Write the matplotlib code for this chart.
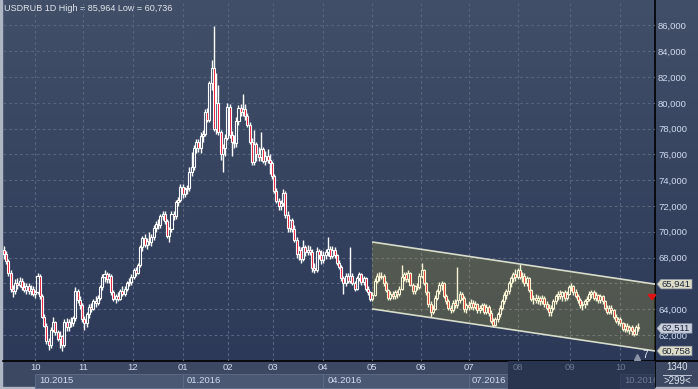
import matplotlib
matplotlib.use("Agg")
import matplotlib.pyplot as plt
import numpy as np
from matplotlib.patches import Polygon, Rectangle
from matplotlib.transforms import blended_transform_factory

plt.rcParams["font.family"] = ["Liberation Sans", "DejaVu Sans"]

TITLE = "USDRUB 1D High = 85,964 Low = 60,736"

# daily candles, 11.09.2015 .. 13.10.2016
opens = [
    68.6, 68.3, 67.7, 66.8, 65.6, 65.4, 66.0, 65.9, 66.2, 65.7,
    65.5, 65.8, 65.4, 65.6, 65.2, 65.3, 66.6, 65.0, 63.4, 62.7,
    61.5, 61.2, 62.4, 63.0, 62.2, 61.7, 61.9, 61.2, 63.0, 62.6,
    63.0, 62.9, 63.3, 65.4, 64.7, 64.3, 63.2, 62.9, 63.6, 64.2,
    64.0, 64.6, 64.5, 64.9, 65.7, 66.5, 66.7, 66.3, 66.6, 65.3,
    64.8, 65.0, 64.8, 65.4, 65.2, 65.6, 66.0, 66.1, 66.5, 67.0,
    66.8, 67.4, 68.8, 69.5, 69.0, 69.3, 69.2, 69.6, 70.3, 70.6,
    70.5, 71.2, 71.4, 70.8, 69.7, 70.2, 71.4, 71.2, 72.3, 72.5,
    73.5, 72.9, 73.3, 73.4, 74.6, 75.0, 76.5, 77.0, 76.5, 77.4,
    77.6, 79.3, 78.7, 81.5, 82.7, 78.0, 80.0, 77.7, 76.0, 76.5,
    77.3, 79.7, 77.5, 77.0, 76.9, 78.6, 79.6, 79.3, 79.5, 79.0,
    78.3, 77.0, 75.4, 76.8, 76.0, 75.8, 76.4, 75.5, 75.9, 75.6,
    75.3, 74.3, 73.2, 72.4, 72.0, 72.2, 73.0, 71.3, 70.3, 70.9,
    70.2, 69.4, 68.3, 68.6, 67.9, 68.8, 68.4, 68.6, 68.4, 67.2,
    67.0, 68.5, 68.2, 67.8, 68.2, 68.4, 68.7, 68.1, 68.6, 68.2,
    67.6, 67.3, 66.4, 66.0, 66.6, 66.2, 66.6, 66.0, 65.6, 66.4,
    66.7, 66.1, 66.4, 65.6, 65.3, 64.8, 65.1, 66.2, 66.6, 66.5,
    66.6, 66.0, 65.5, 64.9, 65.2, 65.0, 65.3, 65.2, 65.6, 66.5,
    66.7, 66.3, 66.8, 65.9, 65.4, 65.8, 65.7, 66.6, 67.0, 66.0,
    65.3, 64.4, 63.8, 64.0, 64.9, 65.4, 65.9, 66.0, 65.0, 64.6,
    64.1, 63.9, 64.5, 64.3, 64.7, 65.2, 64.9, 64.0, 64.3, 64.2,
    64.5, 64.2, 64.4, 63.9, 64.1, 64.3, 63.8, 64.2, 63.7, 63.1,
    62.8, 63.2, 63.6, 64.1, 64.6, 65.1, 65.4, 66.0, 66.4, 66.7,
    66.5, 67.0, 66.5, 66.6, 66.0, 66.4, 65.5, 64.8, 64.9, 64.7,
    64.9, 64.6, 64.9, 64.4, 64.1, 63.8, 64.1, 64.6, 65.0, 65.2,
    65.0, 65.3, 64.9, 65.2, 65.7, 65.8, 65.3, 65.0, 64.7, 64.3,
    64.4, 64.6, 64.8, 65.2, 65.3, 64.9, 65.1, 64.7, 65.0, 64.6,
    64.1, 63.8, 64.1, 63.9, 63.4, 63.1, 63.2, 62.9, 62.5, 62.7,
    62.4, 62.6, 62.3, 62.1, 62.6,
]
highs = [
    68.9, 68.5, 67.9, 67.0, 65.9, 66.3, 66.4, 66.5, 66.4, 66.1,
    66.0, 66.0, 65.9, 65.8, 65.5, 66.8, 66.7, 65.2, 63.6, 62.9,
    61.8, 62.6, 63.4, 63.1, 62.4, 62.3, 62.0, 63.2, 63.3, 63.2,
    63.4, 63.5, 65.7, 65.6, 65.0, 64.5, 63.5, 63.8, 64.4, 64.5,
    64.8, 65.0, 65.1, 65.9, 66.7, 67.0, 66.9, 66.8, 66.7, 65.5,
    65.2, 65.3, 65.6, 65.8, 65.8, 66.2, 66.4, 66.7, 67.2, 67.3,
    67.6, 69.0, 69.7, 69.8, 69.5, 70.0, 69.8, 70.5, 70.8, 71.0,
    71.4, 71.6, 71.6, 71.0, 70.4, 71.6, 71.6, 72.5, 72.7, 73.7,
    73.7, 73.5, 73.6, 75.0, 76.2, 76.7, 77.2, 77.2, 77.7, 77.9,
    79.5, 79.6, 81.7, 83.3, 85.964, 82.3, 81.4, 77.9, 76.8, 77.6,
    80.0, 79.9, 77.8, 77.5, 78.9, 79.8, 79.9, 80.7, 79.9, 79.2,
    78.5, 77.3, 77.9, 77.0, 76.6, 77.7, 76.6, 76.3, 76.4, 76.0,
    75.5, 74.5, 73.4, 72.6, 72.5, 73.3, 73.2, 71.6, 71.0, 71.1,
    70.5, 69.6, 68.9, 68.8, 69.4, 69.0, 69.0, 68.9, 68.7, 67.6,
    68.8, 68.7, 68.6, 68.5, 68.7, 69.6, 68.9, 68.9, 68.8, 68.3,
    67.8, 67.4, 66.6, 66.8, 66.8, 68.8, 66.8, 66.2, 66.6, 66.9,
    66.8, 66.6, 66.5, 65.8, 65.4, 65.3, 66.4, 66.8, 66.9, 66.9,
    66.7, 66.2, 65.6, 65.4, 65.4, 65.5, 65.5, 65.8, 67.4, 66.9,
    66.9, 67.0, 66.9, 66.0, 65.9, 66.0, 66.8, 67.6, 67.1, 66.1,
    65.4, 64.6, 64.3, 65.1, 65.6, 66.1, 66.2, 66.1, 65.2, 64.8,
    64.3, 64.7, 64.8, 67.3, 65.4, 65.3, 65.0, 64.5, 64.6, 64.8,
    64.7, 64.6, 64.5, 64.3, 64.5, 64.5, 64.4, 64.3, 63.9, 63.3,
    63.4, 63.8, 64.3, 64.8, 65.3, 65.6, 66.2, 66.6, 66.9, 67.1,
    67.2, 67.5, 66.9, 66.8, 66.6, 66.5, 65.6, 65.1, 65.2, 65.1,
    65.0, 65.1, 65.0, 64.6, 64.4, 64.3, 64.8, 65.2, 65.4, 65.5,
    65.4, 65.5, 65.4, 65.9, 66.0, 65.9, 65.6, 65.2, 64.9, 64.6,
    64.8, 65.0, 65.4, 65.5, 65.5, 65.3, 65.2, 65.2, 65.1, 64.7,
    64.3, 64.3, 64.3, 64.0, 63.6, 63.4, 63.4, 63.0, 62.9, 62.9,
    62.8, 62.8, 62.5, 62.8, 62.9,
]
lows = [
    67.9, 67.5, 66.6, 65.3, 64.95, 65.2, 65.6, 65.7, 65.5, 65.3,
    65.2, 65.2, 65.1, 65.0, 64.9, 65.2, 64.8, 63.3, 62.6, 61.3,
    60.8, 61.0, 62.2, 62.0, 61.5, 61.0, 60.736, 61.1, 62.3, 62.3,
    62.6, 62.7, 63.1, 64.5, 64.0, 63.0, 62.4, 62.6, 63.3, 63.8,
    63.9, 64.2, 64.3, 64.7, 65.5, 66.1, 66.0, 66.0, 65.1, 64.6,
    64.5, 64.6, 64.7, 65.0, 65.0, 65.4, 65.8, 65.9, 66.3, 66.6,
    66.7, 67.3, 68.5, 68.8, 68.7, 69.0, 68.9, 69.4, 70.0, 70.2,
    70.3, 70.9, 70.6, 69.5, 69.2, 70.0, 70.9, 71.0, 72.0, 72.3,
    72.6, 72.7, 72.9, 73.2, 74.3, 74.8, 76.1, 76.2, 76.1, 77.0,
    77.4, 78.5, 78.5, 81.0, 77.8, 77.6, 77.5, 75.6, 74.6, 75.9,
    77.1, 77.3, 75.9, 76.5, 76.6, 78.3, 79.0, 79.0, 78.7, 78.1,
    76.8, 75.2, 75.2, 75.5, 75.5, 75.5, 75.3, 75.2, 75.3, 74.5,
    74.1, 73.0, 72.2, 71.7, 71.7, 72.0, 71.1, 70.0, 70.0, 70.0,
    69.2, 68.0, 67.8, 67.6, 67.7, 68.1, 68.2, 68.2, 66.9, 66.8,
    66.9, 67.9, 67.5, 67.6, 67.9, 68.1, 67.9, 68.0, 68.0, 67.4,
    67.1, 66.2, 65.2, 65.8, 66.0, 66.0, 65.9, 65.4, 65.5, 66.2,
    65.9, 65.9, 65.4, 65.1, 64.6, 64.6, 65.0, 66.0, 66.2, 66.3,
    65.8, 65.3, 64.7, 64.7, 64.8, 64.8, 64.9, 65.0, 65.5, 66.2,
    66.1, 66.1, 65.8, 65.2, 65.2, 65.5, 65.6, 66.4, 65.9, 65.1,
    64.2, 63.4, 63.6, 63.9, 64.7, 65.2, 65.5, 64.9, 64.4, 63.9,
    63.7, 63.8, 64.1, 64.1, 64.5, 64.7, 63.8, 63.7, 63.9, 64.0,
    63.9, 64.0, 63.7, 63.7, 63.9, 63.6, 63.6, 63.5, 62.9, 62.6,
    62.7, 63.0, 63.4, 63.9, 64.4, 64.8, 65.2, 65.7, 66.1, 66.2,
    66.3, 66.3, 66.1, 65.8, 65.8, 65.3, 64.6, 64.4, 64.5, 64.4,
    64.3, 64.4, 64.2, 63.9, 63.5, 63.5, 63.9, 64.4, 64.7, 64.8,
    64.6, 64.6, 64.7, 65.1, 65.4, 65.1, 64.9, 64.5, 64.1, 63.9,
    64.1, 64.3, 64.6, 64.9, 64.7, 64.6, 64.5, 64.5, 64.4, 63.9,
    63.6, 63.6, 63.6, 63.2, 62.9, 62.8, 62.7, 62.3, 62.2, 62.2,
    62.1, 62.0, 61.9, 62.0, 62.3,
]
closes = [
    68.3, 67.7, 66.8, 65.6, 65.4, 66.0, 65.9, 66.2, 65.7, 65.5,
    65.8, 65.4, 65.6, 65.2, 65.3, 66.6, 65.0, 63.4, 62.7, 61.5,
    61.2, 62.4, 63.0, 62.2, 61.7, 61.9, 61.2, 63.0, 62.6, 63.0,
    62.9, 63.3, 65.4, 64.7, 64.3, 63.2, 62.9, 63.6, 64.2, 64.0,
    64.6, 64.5, 64.9, 65.7, 66.5, 66.7, 66.3, 66.6, 65.3, 64.8,
    65.0, 64.8, 65.4, 65.2, 65.6, 66.0, 66.1, 66.5, 67.0, 66.8,
    67.4, 68.8, 69.5, 69.0, 69.3, 69.2, 69.6, 70.3, 70.6, 70.5,
    71.2, 71.4, 70.8, 69.7, 70.2, 71.4, 71.2, 72.3, 72.5, 73.5,
    72.9, 73.3, 73.4, 74.6, 75.0, 76.5, 77.0, 76.5, 77.4, 77.6,
    79.3, 78.7, 81.5, 82.7, 78.0, 80.0, 77.7, 76.0, 76.5, 77.3,
    79.7, 77.5, 77.0, 76.9, 78.6, 79.6, 79.3, 79.5, 79.0, 78.3,
    77.0, 75.4, 76.8, 76.0, 75.8, 76.4, 75.5, 75.9, 75.6, 75.3,
    74.3, 73.2, 72.4, 72.0, 72.2, 73.0, 71.3, 70.3, 70.9, 70.2,
    69.4, 68.3, 68.6, 67.9, 68.8, 68.4, 68.6, 68.4, 67.2, 67.0,
    68.5, 68.2, 67.8, 68.2, 68.4, 68.7, 68.1, 68.6, 68.2, 67.6,
    67.3, 66.4, 66.0, 66.6, 66.2, 66.6, 66.0, 65.6, 66.4, 66.7,
    66.1, 66.4, 65.6, 65.3, 64.8, 65.1, 66.2, 66.6, 66.5, 66.6,
    66.0, 65.5, 64.9, 65.2, 65.0, 65.3, 65.2, 65.6, 66.5, 66.7,
    66.3, 66.8, 65.9, 65.4, 65.8, 65.7, 66.6, 67.0, 66.0, 65.3,
    64.4, 63.8, 64.0, 64.9, 65.4, 65.9, 66.0, 65.0, 64.6, 64.1,
    63.9, 64.5, 64.3, 64.7, 65.2, 64.9, 64.0, 64.3, 64.2, 64.5,
    64.2, 64.4, 63.9, 64.1, 64.3, 63.8, 64.2, 63.7, 63.1, 62.8,
    63.2, 63.6, 64.1, 64.6, 65.1, 65.4, 66.0, 66.4, 66.7, 66.5,
    67.0, 66.5, 66.6, 66.0, 66.4, 65.5, 64.8, 64.9, 64.7, 64.9,
    64.6, 64.9, 64.4, 64.1, 63.8, 64.1, 64.6, 65.0, 65.2, 65.0,
    65.3, 64.9, 65.2, 65.7, 65.8, 65.3, 65.0, 64.7, 64.3, 64.4,
    64.6, 64.8, 65.2, 65.3, 64.9, 65.1, 64.7, 65.0, 64.6, 64.1,
    63.8, 64.1, 63.9, 63.4, 63.1, 63.2, 62.9, 62.5, 62.7, 62.4,
    62.6, 62.3, 62.1, 62.6, 62.511,
]

# month starts, in bar positions
month_pos = [13.9, 35.4, 57.8, 80.2, 100.3, 120.5, 142.9, 164.8, 186.7, 208.2, 230.2, 253.5, 275.9]
month_labels = ["10", "11", "12", "01", "02", "03", "04", "05", "06", "07", "08", "09", "10"]
year_labels = ["10.2015", "01.2016", "04.2016", "07.2016", "10.2016"]
year_month_idx = [0, 3, 6, 9, 12]

y_ticks = list(range(62, 87, 2))
hidden_ticks = [66]   # sits under the 65,941 tag

# trend channel (bar position, price)
channel_x = [164.8, 291.5]
channel_upper = [69.21, 65.941]
channel_lower = [64.02, 60.758]

# price tags on the right scale
tag_values = [65.941, 62.511, 60.758]
tag_colors = ["#dcdcc6", "#c9cfdd", "#dcdcc6"]

scroll_start = 225.7   # where the dimmed part of the time scale begins
bars_count_text = "1340"
bars_shown_text = ">299<"

W, H = 698, 389
XMIN, XMAX = -0.45, 291.5
YMIN, YMAX = 59.98, 87.74

BG_TOP = np.array([66, 79, 104]) / 255
BG_BOT = np.array([44, 57, 88]) / 255
GRID = "#58657e"
RED = "#e4122e"
LABEL = "#d0dbef"

fig = plt.figure(figsize=(W / 100, H / 100), dpi=100)

# whole-figure backdrop in pixel coordinates
bg = fig.add_axes([0, 0, 1, 1])
bg.set_axis_off()
bg.set_xlim(0, W)
bg.set_ylim(H, 0)
t = np.linspace(0, 1, 256)[:, None, None]
grad = BG_TOP + (BG_BOT - BG_TOP) * t
bg.imshow(grad, extent=(0, W, 361, 0), aspect="auto", zorder=0, interpolation="bilinear")
bg.add_patch(Rectangle((0, 361), W, 28, color="#3c4862", zorder=1))
bg.add_patch(Rectangle((0, 0), 2, H, color="#aeb6c4", zorder=5))
bg.add_patch(Rectangle((0, 387), W, 2, color="#aeb6c4", zorder=5))
bg.plot([3, W], [361, 361], color="black", lw=1.2, zorder=6)
bg.plot([655, 655], [0, 387], color="black", lw=1.2, zorder=6)
bg.text(4, 8.5, TITLE, color="#e2e6ee", fontsize=6.5, ha="left", va="center", zorder=7)
bg.text(677, 367.5, bars_count_text, color="#e0e6f0", fontsize=6.9, ha="center", va="center", zorder=7)
bg.plot([663, 691], [374.5, 374.5], color="#c0c8d8", lw=0.7, zorder=7)
bg.text(677, 381, bars_shown_text, color="#e0e6f0", fontsize=6.9, ha="center", va="center", zorder=7)

# price panel
ax = fig.add_axes([3 / W, 28 / H, 652 / W, 358 / H])
ax.patch.set_alpha(0)
ax.set_xlim(XMIN, XMAX)
ax.set_ylim(YMIN, YMAX)
for s in ax.spines.values():
    s.set_visible(False)

ax.set_yticks(y_ticks)
ax.set_yticklabels(["" if v in hidden_ticks else f"{v},000" for v in y_ticks])
ax.yaxis.tick_right()
ax.tick_params(axis="y", length=0, pad=2.2, labelsize=6.8, labelcolor=LABEL)
ax.set_xticks(month_pos)
ax.tick_params(axis="x", length=0, labelbottom=False)
ax.set_axisbelow(True)
ax.grid(True, color=GRID, lw=0.8, ls=(0, (2.5, 2.5)))

o = np.array(opens)
h = np.array(highs)
l = np.array(lows)
c = np.array(closes)
x = np.arange(len(c))
up = c >= o
body_lo = np.minimum(o, c)
body_hi = np.maximum(o, c)
body_h = np.maximum(body_hi - body_lo, 0.05)

ax.vlines(x, body_hi, h, color="white", lw=1.0, zorder=3)
ax.vlines(x, l, body_lo, color="white", lw=1.0, zorder=3)
ax.bar(x[up], body_h[up], bottom=body_lo[up], width=0.9, facecolor="none",
       edgecolor="white", linewidth=0.8, zorder=3)
ax.bar(x[~up], body_h[~up], bottom=body_lo[~up], width=0.9, facecolor=RED,
       edgecolor="white", linewidth=0.8, zorder=3)

chan = Polygon([(channel_x[0], channel_upper[0]), (channel_x[1], channel_upper[1]),
                (channel_x[1], channel_lower[1]), (channel_x[0], channel_lower[0])],
               closed=True, facecolor=(220 / 255, 200 / 255, 40 / 255, 0.2),
               edgecolor="none", zorder=4)
ax.add_patch(chan)
ax.plot(channel_x, channel_upper, color="#d8dccb", lw=1.2, zorder=5, solid_capstyle="butt")
ax.plot(channel_x, channel_lower, color="#d8dccb", lw=1.2, zorder=5, solid_capstyle="butt")

# tags on the price scale
tr = blended_transform_factory(ax.transAxes, ax.transData)
hh = 0.37
px = 1 / 652
for v, col in zip(tag_values, tag_colors):
    poly = Polygon([(1 + 2 * px, v), (1 + 6 * px, v + hh), (1 + 37 * px, v + hh),
                    (1 + 37 * px, v - hh), (1 + 6 * px, v - hh)], closed=True,
                   facecolor=col, edgecolor="#8d95a6", lw=0.5,
                   transform=tr, clip_on=False, zorder=8)
    ax.add_patch(poly)
    ax.text(1 + 7 * px, v, f"{v:.3f}".replace(".", ","), transform=tr, fontsize=6.8,
            color="#1e263a", ha="left", va="center", clip_on=False, zorder=9)

ax.annotate("", xy=(0.9955, 0.160), xytext=(0.9955, 0.190), xycoords="axes fraction",
            arrowprops=dict(arrowstyle="-|>,head_width=0.22,head_length=0.3",
                            color="#e01414", lw=1.6), zorder=9)
ax.plot([(637 - 3) / 652], [(361 - 356.5) / 358], marker="^", ms=4, color="#8a94a8",
        transform=ax.transAxes, clip_on=False, zorder=9)
ax.text((645.5 - 3) / 652, (361 - 355) / 358, "7", transform=ax.transAxes, fontsize=7.5,
        color="#e0e6f0", ha="center", va="center", zorder=9)

# time scale
axb = fig.add_axes([3 / W, 0, 652 / W, 28 / H])
axb.set_axis_off()
axb.set_xlim(XMIN, XMAX)
axb.set_ylim(28, 0)
for k, mi in enumerate(year_month_idx[:-1]):
    x0 = month_pos[mi]
    x1 = month_pos[year_month_idx[k + 1]] if k + 1 < len(year_month_idx) - 1 else scroll_start
    x1 = min(x1, scroll_start)
    axb.add_patch(Rectangle((x0, 13), x1 - x0, 13.5, facecolor="#4b5874",
                            edgecolor="#5f6c88", lw=0.6, zorder=1))
axb.add_patch(Rectangle((scroll_start, 0), XMAX - scroll_start, 28, facecolor="#29354f",
                        edgecolor="none", zorder=2))
axb.add_patch(Rectangle((month_pos[12], 13), XMAX - month_pos[12], 14, facecolor="#2e3a56",
                        edgecolor="#36425e", lw=0.6, zorder=2))
for p, lab in zip(month_pos, month_labels):
    col = LABEL if p < scroll_start else "#6b7995"
    axb.text(p, 6.8, lab, fontsize=6.8, color=col, ha="center", va="center", zorder=3)
for k, (mi, lab) in enumerate(zip(year_month_idx, year_labels)):
    p = month_pos[mi]
    if k == 3:
        axb.annotate(lab, xy=(scroll_start, 19.5), xytext=(-2, 0), textcoords="offset pixels",
                     fontsize=6.8, color=LABEL, ha="right", va="center", zorder=3)
    elif p < scroll_start:
        axb.annotate(lab, xy=(p, 19.5), xytext=(4, 0), textcoords="offset pixels",
                     fontsize=6.8, color=LABEL, ha="left", va="center", zorder=3)
    else:
        axb.annotate(lab, xy=(p, 19.5), xytext=(4, 0), textcoords="offset pixels",
                     fontsize=6.8, color="#6b7995", ha="left", va="center", zorder=3,
                     annotation_clip=True, clip_on=True)

fig.savefig("out.png", dpi=100)
